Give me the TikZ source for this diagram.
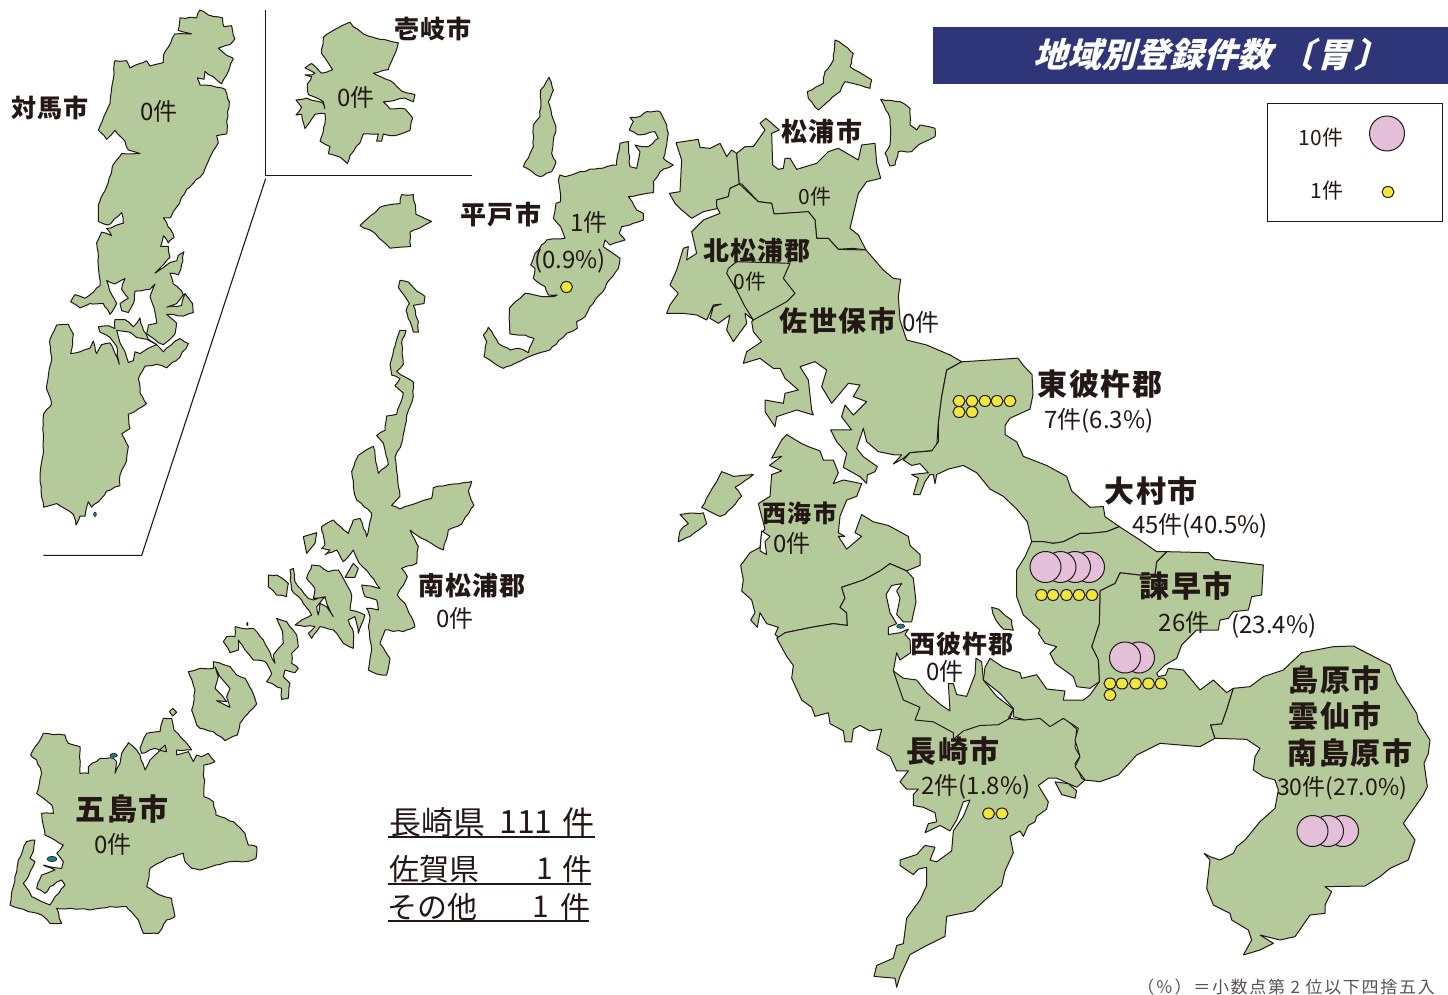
\documentclass[tikz,border=0pt]{standalone}
\usepackage{fontspec}
\setmainfont{Noto Sans CJK JP}
\newfontfamily\slantjp[FakeSlant=0.28]{Noto Sans CJK JP}
\definecolor{landc}{HTML}{B5CA9A}
\definecolor{inkc}{HTML}{231815}
\definecolor{navyc}{HTML}{2E3578}
\definecolor{pinkc}{HTML}{E3BFD9}
\definecolor{yelc}{HTML}{F0E640}
\definecolor{tealc}{HTML}{1F7F86}
\usetikzlibrary{shapes.geometric,decorations.pathmorphing}
\tikzset{
 land/.style={fill=landc,draw=inkc,line width=1pt,line join=round},
 isle/.style={land,decorate,decoration={random steps,segment length=5pt,amplitude=.7pt}},
 hole/.style={fill=white,draw=inkc,line width=1pt,line join=round},
 rule/.style={draw=inkc,line width=1.1pt},
 reg/.style={font=\bfseries\fontsize{#1}{#1}\selectfont\addfontfeature{LetterSpace=5},text=inkc,inner sep=0pt},
 cnt/.style={font=\fontsize{#1}{#1}\selectfont,text=inkc,inner sep=0pt},
 bigc/.style={fill=pinkc,draw=inkc,line width=1pt,circle,minimum size=31pt,inner sep=0pt},
 smalld/.style={fill=yelc,draw=inkc,line width=1pt,ellipse,minimum width=12pt,minimum height=11pt,inner sep=0pt},
 za/.style={xscale=.33333,yscale=.35714},
 zb/.style={shift={(470,30)},xscale=.33333,yscale=.33333},
 zc/.style={shift={(670,420)},xscale=.33333,yscale=.36364},
 zd/.style={shift={(1000,500)},xscale=.33333,yscale=.33333},
 ze/.style={shift={(0,500)},xscale=.33333,yscale=.33333},
}
\newcommand\landp[1]{\draw[land] plot coordinates {#1} -- cycle;}
\newcommand\islep[1]{\draw[isle] plot coordinates {#1} -- cycle;}
\newcommand\holep[1]{\draw[hole] plot coordinates {#1} -- cycle;}
\begin{document}
\begin{tikzpicture}[x=1pt,y=-1pt]
\pgfmathsetseed{7}
\useasboundingbox (0,0) rectangle (1448,995);
\fill[white] (0,0) rectangle (1448,995);
% ---- frame z1: Tsushima, Iki
\begin{scope}[za]
\coordinate (fa) at (797,28); \coordinate (fb) at (797,492); \coordinate (fc) at (1415,492);
\coordinate (fd) at (797,500); \coordinate (fe) at (425,1555); \coordinate (ff) at (130,1555);
\draw[rule] (fa)--(fb)--(fc);
\draw[rule] (fd)--(fe)--(ff);
% lower Tsushima
\islep{(170,910)(205,908)(220,935)(212,990)(240,985)(270,975)(280,955)(290,990)(305,965)(330,960)(345,990)(358,1020)(350,970)(330,945)(300,930)(295,915)(325,912)(345,920)(345,895)(375,895)(400,915)(420,890)(430,925)(445,950)(470,965)(490,985)(525,955)(540,948)(565,962)(540,1000)(500,1030)(470,1020)(435,1025)(415,1060)(420,1100)(440,1130)(400,1155)(385,1160)(390,1200)(365,1215)(385,1250)(380,1290)(360,1330)(360,1360)(320,1375)(295,1405)(275,1420)(265,1405)(255,1445)(240,1445)(228,1470)(220,1440)(170,1410)(130,1420)(120,1340)(130,1260)(130,1160)(155,1130)(140,1090)(155,1000)(150,950)}
\holep{(350,925)(390,930)(410,945)(440,950)(470,965)(445,975)(420,990)(405,985)(400,1010)(385,1015)(375,985)(360,960)}
% upper Tsushima
\islep{(600,28)(625,42)(668,50)(672,75)(695,72)(700,100)(705,108)(690,125)(655,135)(680,155)(700,165)(685,200)(665,235)(640,215)(615,200)(612,222)(592,218)(600,238)(635,240)(675,250)(688,285)(680,340)(680,375)(650,380)(655,400)(630,440)(610,485)(560,530)(530,580)(510,610)(490,610)(510,640)(522,665)(505,680)(490,660)(482,690)(505,690)(510,720)(465,765)(510,735)(530,730)(535,715)(552,705)(545,740)(535,770)(510,765)(520,795)(545,815)(550,825)(530,850)(500,860)(545,855)(555,822)(578,850)(580,875)(550,885)(500,880)(530,905)(525,935)(490,965)(470,955)(440,935)(445,910)(470,905)(465,875)(450,830)(465,795)(450,810)(405,815)(400,850)(385,875)(365,870)(360,850)(385,835)(365,810)(375,780)(345,795)(320,785)(335,825)(350,850)(330,880)(310,850)(270,850)(240,862)(212,845)(225,825)(255,835)(300,800)(295,720)(290,680)(305,650)(335,660)(320,640)(370,625)(365,595)(325,630)(295,620)(295,575)(325,510)(340,460)(365,430)(420,430)(385,420)(375,395)(345,365)(320,390)(295,365)(330,290)(345,170)(380,170)(390,190)(440,170)(450,185)(490,175)(490,155)(525,95)(575,95)(535,85)(540,50)(590,50)}
\fill[tealc,draw=inkc,line width=.6pt] (285,1440) ellipse (4 and 6);
% Iki
\islep{(1050,62)(1060,75)(1090,95)(1140,110)(1195,120)(1180,160)(1165,195)(1120,205)(1170,225)(1205,255)(1245,265)(1240,285)(1215,275)(1150,285)(1170,305)(1215,305)(1238,330)(1230,365)(1185,380)(1150,375)(1145,395)(1130,395)(1135,375)(1090,375)(1080,400)(1050,435)(1042,458)(1020,440)(985,430)(990,410)(960,395)(975,345)(975,318)(945,320)(915,360)(905,320)(888,322)(905,300)(888,280)(920,275)(970,290)(975,305)(970,285)(925,265)(922,235)(935,215)(915,210)(935,210)(945,205)(915,190)(935,178)(965,205)(998,195)(965,150)(970,105)(1000,85)(1030,70)}
% small island
\islep{(1080,632)(1140,580)(1200,570)(1205,545)(1240,545)(1248,600)(1295,620)(1230,650)(1232,690)(1170,695)(1120,650)}
% narrow island
\islep{(1200,785)(1225,790)(1250,815)(1275,830)(1272,850)(1240,855)(1255,900)(1255,930)(1240,930)(1218,870)(1228,850)(1195,805)}
\end{scope}
% ---- frame z5: Goto
\begin{scope}[ze]
\islep{(1200,-509)(1218,-509)(1205,-471)(1210,-407)(1190,-386)(1240,-354)(1240,-311)(1225,-268)(1205,-171)(1185,-129)(1190,-86)(1200,-11)(1175,16)(1200,27)(1260,5)(1295,-5)(1300,-37)(1360,-48)(1415,-56)(1405,-27)(1422,16)(1385,72)(1345,90)(1330,150)(1265,115)(1230,90)(1255,140)(1250,190)(1205,205)(1222,230)(1192,285)(1215,310)(1245,380)(1210,395)(1155,390)(1140,430)(1170,475)(1160,525)(1130,522)(1105,510)(1115,450)(1105,380)(1110,350)(1100,325)(1135,330)(1130,300)(1095,290)(1085,255)(1140,265)(1110,225)(1078,190)(1060,150)(1030,185)(1010,150)(975,165)(990,150)(965,145)(975,135)(965,80)(1000,60)(1045,100)(1060,60)(1080,55)(1100,110)(1115,40)(1070,0)(1060,-40)(1055,-86)(1075,-134)(1120,-161)(1135,-80)(1165,-107)(1150,-171)(1130,-193)(1155,-209)(1160,-252)(1190,-257)(1210,-321)(1185,-343)(1200,-364)(1175,-375)(1170,-407)(1185,-461)}
\islep{(935,195)(960,198)(985,215)(1015,210)(1030,235)(1055,285)(1050,330)(1095,345)(1075,400)(1065,350)(1045,360)(1060,395)(1060,445)(1030,430)(1010,400)(1000,390)(960,380)(935,415)(925,400)(945,380)(885,375)(905,360)(935,345)(905,300)(875,270)(870,210)(880,205)(885,245)(905,270)(925,295)(940,300)(975,290)(950,320)(955,345)(960,310)(980,320)(1000,350)(980,310)(975,290)(940,295)(945,265)(920,235)}
\landp{(1035,232)(1060,190)(1075,205)(1065,232)}
\islep{(805,225)(830,225)(865,250)(860,290)(830,285)(805,260)}
\landp{(910,110)(950,98)(945,130)(920,160)}
\islep{(705,380)(725,385)(760,385)(790,420)(825,490)(820,465)(850,430)(848,395)(830,355)(860,365)(890,405)(895,440)(875,460)(875,490)(895,505)(885,518)(855,510)(850,530)(870,550)(865,595)(845,598)(845,565)(800,545)(815,520)(795,485)(760,480)(735,450)(715,420)(715,450)(690,458)(670,425)(680,410)(705,410)}
\fill[inkc] (742,372) ellipse (3 and 6);
\islep{(565,515)(600,505)(640,505)(640,485)(690,500)(710,525)(735,535)(755,570)(770,612)(745,640)(720,670)(712,705)(675,722)(640,695)(600,685)(590,675)(575,630)(585,570)}
\holep{(645,500)(660,530)(690,565)(680,590)(690,622)(650,602)(680,605)(665,585)(645,565)(655,530)}
\landp{(508,635)(518,625)(530,637)(518,648)}
\islep{(490,655)(515,655)(522,690)(545,715)(575,750)(530,750)(530,765)(565,755)(580,785)(590,765)(605,770)(625,760)(645,785)(612,795)(612,890)(640,905)(648,945)(700,965)(735,1000)(745,1035)(770,1040)(768,1075)(740,1085)(690,1085)(600,1110)(575,1105)(555,1085)(550,1060)(500,1075)(450,1105)(440,1160)(480,1185)(515,1195)(525,1250)(500,1260)(475,1300)(430,1300)(415,1260)(380,1220)(330,1220)(270,1230)(210,1225)(170,1225)(185,1270)(150,1270)(125,1245)(85,1235)(30,1215)(40,1160)(55,1080)(80,1025)(105,1020)(100,1055)(90,1075)(105,1085)(85,1130)(70,1150)(95,1190)(150,1215)(165,1190)(195,1155)(185,1140)(150,1160)(135,1180)(110,1165)(125,1125)(165,1110)(130,1095)(185,1105)(190,1085)(170,1060)(190,1035)(135,1005)(125,940)(160,940)(155,915)(110,880)(125,820)(110,780)(92,765)(130,700)(195,705)(205,730)(240,740)(240,820)(265,820)(265,800)(300,775)(340,775)(350,785)(345,820)(360,790)(365,760)(385,728)(410,750)(420,765)(435,810)(450,780)(495,735)(500,755)(465,745)(425,760)(420,745)(440,700)(480,695)}
\fill[tealc,draw=inkc,line width=.6pt] (156,1077) ellipse (15 and 8);
\fill[tealc,draw=inkc,line width=.6pt] (341,766) ellipse (11 and 6);
\end{scope}
% ---- frame z2: Hirado, Matsuura, Sasebo
\begin{scope}[zb]
\islep{(237,142)(250,180)(235,215)(245,255)(258,290)(245,370)(258,395)(245,425)(210,440)(160,410)(190,350)(190,285)(210,260)(212,180)}
\islep{(270,435)(285,440)(330,425)(385,415)(440,405)(450,340)(475,335)(480,410)(500,415)(510,365)(495,345)(515,350)(535,350)(565,325)(555,305)(505,315)(478,300)(490,275)(480,262)(510,260)(530,245)(570,245)(590,285)(595,310)(590,345)(580,385)(610,405)(570,425)(550,455)(550,488)(475,500)(500,540)(520,550)(520,570)(490,580)(455,590)(448,610)(465,630)(420,645)(405,630)(400,650)(450,685)(445,715)(410,760)(405,775)(360,830)(345,860)(320,875)(322,895)(290,910)(240,960)(190,975)(100,1015)(60,990)(42,980)(50,935)(40,915)(55,892)(85,940)(120,960)(145,955)(175,968)(192,925)(165,915)(120,912)(118,835)(165,790)(220,800)(240,800)(262,795)(235,795)(225,770)(190,745)(195,715)(182,705)(195,670)(230,630)(285,625)(272,590)(250,565)(258,520)(272,515)(265,450)}
% north islands
\islep{(1095,30)(1120,45)(1150,70)(1140,110)(1165,125)(1205,150)(1200,175)(1125,155)(1110,185)(1080,210)(1045,240)(1015,205)(1012,185)(1060,160)(1065,125)(1090,90)}
\islep{(1232,208)(1290,215)(1320,235)(1320,285)(1340,300)(1350,285)(1395,295)(1395,320)(1345,345)(1325,365)(1285,365)(1275,405)(1260,408)(1245,370)(1260,345)(1260,265)}
% Left block, Matsuura
\landp{(618,338)(685,328)(690,352)(720,355)(750,340)(770,380)(785,360)(800,370)(808,462)(780,475)(775,500)(740,510)(745,535)(700,545)(665,565)(635,540)(615,520)(598,490)(630,485)(635,390)}
\landp{(800,370)(825,350)(850,350)(885,300)(870,280)(888,265)(928,300)(905,310)(908,405)(925,418)(940,415)(945,385)(960,385)(980,418)(1040,400)(1075,365)(1105,355)(1165,390)(1175,345)(1215,340)(1220,400)(1232,445)(1190,455)(1165,490)(1140,595)(1165,615)(1188,660)(1150,655)(1105,658)(1075,625)(1040,625)(1035,570)(1015,545)(980,548)(912,552)(905,520)(865,515)(815,462)(808,462)}
% Kitamatsuura + Sasebo
\landp{(740,510)(775,500)(780,475)(808,462)(865,515)(905,520)(912,552)(1015,545)(1035,570)(1040,625)(1075,625)(1105,658)(1188,660)(1240,720)(1270,745)(1292,748)(1285,800)(1290,870)(1310,930)(1370,945)(1440,975)(1475,995)(1430,1020)(1415,1100)(1405,1180)(1400,1250)(1385,1262)(1320,1268)(1300,1285)(1270,1302)(1295,1275)(1275,1275)(1225,1265)(1190,1235)(1180,1195)(1160,1255)(1180,1280)(1222,1310)(1215,1325)(1192,1335)(1190,1360)(1170,1340)(1120,1312)(1130,1270)(1100,1235)(1082,1200)(1145,1200)(1115,1160)(1125,1125)(1150,1155)(1190,1115)(1150,1100)(1170,1065)(1135,1060)(1085,1120)(1055,1070)(1070,1020)(1035,995)(990,1010)(1015,1050)(1025,1140)(1030,1155)(980,1140)(920,1160)(915,1190)(885,1145)(885,1110)(940,1120)(945,1090)(985,1080)(945,1045)(930,1015)(910,1015)(870,985)(820,1000)(830,965)(875,935)(850,905)(845,875)(850,870)(825,850)(830,880)(790,935)(770,900)(780,855)(745,880)(720,865)(730,830)(755,822)(730,825)(710,870)(680,855)(640,850)(590,850)(600,825)(625,790)(600,765)(620,720)(640,655)(655,650)(650,690)(680,670)(665,605)(700,570)(750,550)(740,530)}
\landp{(775,715)(800,695)(960,700)(940,745)(975,790)(950,815)(850,870)(825,830)(800,780)(770,730)}
\end{scope}
% ---- frame z3
\begin{scope}[zc]
% Higashisonogi
\landp{(875,-160)(960,-165)(1044,-170)(1060,-150)(1086,-125)(1089,-70)(1080,-30)(1020,-5)(1005,15)(1005,40)(1040,60)(1060,100)(1130,125)(1190,155)(1205,195)(1260,240)(1300,238)(1305,266)(1348,293)(1310,307)(1260,312)(1230,312)(1180,335)(1150,339)(1120,335)(1085,335)(1072,280)(1040,245)(1000,210)(960,190)(920,145)(880,125)(835,135)(800,150)(795,175)(790,150)(780,150)(765,170)(750,205)(730,205)(745,160)(725,150)(775,145)(750,120)(725,125)(700,110)(720,90)(785,85)(805,60)(805,9)(815,-64)(830,-137)}
\islep{(155,142)(190,155)(250,150)(195,185)(215,210)(165,260)(150,265)(95,240)}
\islep{(30,260)(100,255)(110,285)(60,320)(25,335)(30,305)(55,285)}
% Saikai
\landp{(350,40)(395,65)(420,75)(450,85)(460,110)(490,110)(505,145)(490,175)(520,165)(575,175)(560,210)(530,220)(510,265)(505,310)(525,320)(505,320)(530,355)(575,320)(555,310)(575,260)(610,280)(655,290)(715,320)(720,345)(750,370)(750,400)(710,415)(660,395)(630,415)(580,440)(515,460)(525,490)(510,515)(530,530)(532,565)(490,560)(425,570)(345,585)(345,610)(315,590)(325,570)(290,560)(270,530)(262,570)(242,550)(255,530)(245,495)(215,470)(220,440)(212,400)(240,365)(270,350)(275,310)(285,300)(265,230)(300,210)(305,150)(335,140)(298,125)(335,100)(305,105)(335,55)}
\holep{(275,305)(300,320)(285,335)(290,370)(270,360)}
% Nagasaki
\landp{(345,585)(425,570)(490,560)(532,565)(530,530)(510,515)(525,490)(515,460)(580,440)(630,415)(660,395)(710,415)(730,435)(738,500)(725,555)(700,555)(680,535)(690,490)(680,470)(695,450)(665,455)(648,480)(660,530)(680,560)(655,570)(655,590)(690,585)(715,575)(705,590)(720,605)(722,640)(690,660)(680,640)(670,690)(700,710)(740,715)(770,750)(815,785)(840,800)(835,725)(850,725)(860,755)(890,760)(915,700)(918,655)(935,665)(940,715)(980,760)(1030,795)(1015,820)(1060,825)(1120,815)(1145,830)(1185,820)(1220,850)(1215,900)(1230,925)(1215,945)(1235,985)(1245,990)(1220,1010)(1160,985)(1135,985)(1105,1005)(1135,1050)(1130,1070)(1100,1090)(1095,1105)(1075,1115)(1060,1145)(1050,1130)(1020,1145)(1030,1190)(1005,1240)(995,1280)(945,1320)(910,1350)(830,1365)(825,1420)(770,1445)(720,1470)(690,1530)(680,1560)(675,1535)(612,1530)(620,1500)(670,1480)(680,1445)(700,1440)(710,1370)(750,1320)(770,1280)(770,1230)(745,1235)(730,1250)(690,1225)(690,1210)(740,1195)(765,1170)(795,1175)(780,1210)(800,1215)(845,1185)(850,1130)(880,1090)(900,1045)(880,1050)(860,1100)(840,1130)(810,1115)(765,1135)(775,1110)(800,1105)(795,1080)(760,1065)(730,1060)(730,1030)(745,1015)(710,1015)(690,995)(715,965)(680,965)(660,925)(620,905)(635,850)(600,855)(570,840)(550,850)(545,885)(525,885)(520,855)(480,835)(475,805)(435,815)(425,790)(395,770)(365,710)(370,675)(350,650)(320,600)}
\draw[land,fill=none] plot coordinates {(670,690)(700,770)(750,790)(735,825)(790,830)(850,860)(850,878)(880,855)(930,840)(985,838)(1020,820)(1030,795)};
\fill[tealc,draw=inkc,line width=.6pt] (692,567) ellipse (12 and 6);
\islep{(965,515)(985,520)(1025,550)(1030,578)(1000,575)(975,545)}
\landp{(1155,995)(1195,1000)(1220,1020)(1215,1040)(1175,1030)}
\end{scope}
% ---- frame z4
\begin{scope}[zd]
% Isahaya
\landp{(470,185)(500,155)(625,158)(645,178)(790,195)(785,285)(755,290)(745,330)(700,335)(685,355)(660,360)(655,390)(590,390)(545,435)(530,475)(495,495)(470,520)(475,530)(497,525)(505,505)(550,510)(600,570)(640,540)(680,578)(700,565)(680,630)(665,672)(632,675)(645,715)(600,740)(480,730)(410,765)(355,825)(300,845)(255,840)(225,800)(240,770)(225,720)(235,685)(190,655)(150,680)(120,655)(75,660)(40,650)(40,625)(0,580)(-50,540)(-45,502)(-30,475)(10,502)(60,518)(65,535)(110,524)(140,567)(195,573)(190,600)(250,600)(270,585)(298,545)(295,480)(275,440)(298,370)(300,272)(345,250)(360,218)(420,225)(465,222)}
% Omura
\landp{(95,125)(130,125)(160,130)(190,125)(240,100)(270,100)(320,95)(358,80)(420,120)(470,155)(500,155)(470,185)(465,222)(420,225)(360,218)(345,250)(300,272)(298,370)(275,440)(295,480)(298,545)(270,565)(230,560)(220,530)(165,490)(150,460)(170,440)(135,430)(115,400)(120,390)(70,345)(50,290)(50,210)(75,170)}
% Shimabara
\landp{(700,565)(750,560)(790,530)(850,510)(905,458)(1000,440)(1060,438)(1170,495)(1190,545)(1250,640)(1255,665)(1290,720)(1285,760)(1272,790)(1282,860)(1270,885)(1210,970)(1245,1020)(1225,1080)(1170,1105)(1140,1130)(1095,1158)(975,1160)(995,1175)(975,1215)(975,1240)(930,1245)(885,1310)(840,1320)(780,1305)(820,1330)(780,1350)(730,1365)(755,1320)(745,1290)(695,1260)(690,1240)(640,1215)(620,1165)(630,1080)(612,1060)(630,1070)(660,1080)(700,1060)(710,1040)(735,1020)(780,965)(825,925)(835,870)(825,840)(790,830)(760,810)(765,770)(780,745)(740,718)(645,715)(632,675)(665,672)(680,630)}
\end{scope}
% ---- markers
\node[smalld] (h1) at (566.5,287) {};
\foreach \n/\x/\y in {b5/1010/401,b4/997/401,b3/985/401,b2/972/401,b1/959/401,b7/972/412,b6/959/412}{\node[smalld] (\n) at (\x,\y) {};}
\foreach \n/\x in {o4/1089,o3/1075,o2/1060.5,o1/1045.5}{\node[bigc] (\n) at (\x,567) {};}
\foreach \n/\x in {oy1/1041.5,oy2/1053,oy3/1066.5,oy4/1079,oy5/1092}{\node[smalld] (\n) at (\x,595) {};}
\foreach \n/\x in {i2/1139,i1/1125}{\node[bigc] (\n) at (\x,657.5) {};}
\foreach \n/\x in {iy1/1110,iy2/1122,iy3/1135.5,iy4/1148.5,iy5/1161}{\node[smalld] (\n) at (\x,683.5) {};}
\node[smalld] (iy6) at (1110,695) {};
\node[smalld] (ny1) at (988.5,813.5) {};
\node[smalld] (ny2) at (1002,813.5) {};
\foreach \n/\x in {s3/1343,s2/1328,s1/1312.5}{\node[bigc] (\n) at (\x,831) {};}
% ---- title, legend
\fill[navyc] (933,27) rectangle (1448,84);
\node[inner sep=0pt,text=white,font=\slantjp\bfseries\fontsize{34}{34}\selectfont] (title) at (1211,55) {地域別登録件数\hspace{8pt}〔\hspace{4pt}胃\hspace{4pt}〕};
\draw[draw=inkc,line width=.9pt] (1267,103) rectangle (1442,221);
\node[bigc,minimum size=35pt] (lega) at (1387,133.5) {};
\node[smalld] (legb) at (1388,192) {};
\node[cnt=21] (lt1) at (1321,138) {10件};
\node[cnt=21] (lt2) at (1327,191) {1件};
% ---- labels
\node[reg=25] (n1) at (50,108) {対馬市};
\node[cnt=24] (c1) at (159,111) {0件};
\node[reg=25] (n2) at (433,29) {壱岐市};
\node[cnt=24] (c2) at (356,97) {0件};
\node[reg=26] (n3) at (822,132) {松浦市};
\node[cnt=21] (c3) at (815,197) {0件};
\node[reg=26] (n4) at (501,215) {平戸市};
\node[cnt=24] (c4) at (589,222) {1件};
\node[cnt=24] (c4b) at (570,261) {(0.9\%)};
\node[reg=26] (n5) at (757,251) {北松浦郡};
\node[cnt=21] (c5) at (750,282) {0件};
\node[reg=28] (n6) at (838,321) {佐世保市};
\node[cnt=24] (c6) at (921,322) {0件};
\node[reg=30] (n7) at (1100,384) {東彼杵郡};
\node[cnt=24] (c7) at (1099,421) {7件(6.3\%)};
\node[reg=30] (n8) at (1151,491) {大村市};
\node[cnt=24] (c8) at (1200,526) {45件(40.5\%)};
\node[reg=30] (n9) at (1186,586) {諫早市};
\node[cnt=24] (c9) at (1184,622) {26件};
\node[cnt=24] (c9b) at (1274,626) {(23.4\%)};
\node[reg=30] (n10) at (1335,680) {島原市};
\node[reg=30] (n11) at (1335,716) {雲仙市};
\node[reg=30] (n12) at (1350,753) {南島原市};
\node[cnt=23] (c10) at (1342,788) {30件(27.0\%)};
\node[reg=24] (n13) at (800,513) {西海市};
\node[cnt=24] (c11) at (792,543) {0件};
\node[reg=25] (n14) at (962,644) {西彼杵郡};
\node[cnt=24] (c12) at (945,671) {0件};
\node[reg=30] (n15) at (953,751) {長崎市};
\node[cnt=24] (c13) at (976,787) {2件(1.8\%)};
\node[reg=26] (n16) at (472,586) {南松浦郡};
\node[cnt=24] (c14) at (455,618) {0件};
\node[reg=30] (n17) at (122,809) {五島市};
\node[cnt=24] (c15) at (113,844) {0件};
% ---- totals
\node[cnt=32,anchor=west] (t1) at (389,822) {長崎県};
\node[cnt=32] (t1n) at (526,822) {111};
\node[cnt=32] (t1k) at (578,822) {件};
\coordinate (r1a) at (388,837); \coordinate (r1b) at (595,837);
\draw[rule] (r1a)--(r1b);
\node[cnt=30,anchor=west] (t2) at (389,869) {佐賀県};
\node[cnt=30] (t2n) at (545,869) {1};
\node[cnt=30] (t2k) at (577,869) {件};
\coordinate (r2a) at (388,884); \coordinate (r2b) at (591,884);
\draw[rule] (r2a)--(r2b);
\node[cnt=30,anchor=west] (t3) at (387,907) {その他};
\node[cnt=30] (t3n) at (541,907) {1};
\node[cnt=30] (t3k) at (575,907) {件};
\coordinate (r3a) at (388,921); \coordinate (r3b) at (589,921);
\draw[rule] (r3a)--(r3b);
\node[inner sep=0pt,anchor=east,text=inkc!75,font=\fontsize{17}{17}\selectfont\addfontfeature{LetterSpace=10}] (foot) at (1435,987) {（％）＝小数点第 2 位以下四捨五入};
\end{tikzpicture}
\end{document}
